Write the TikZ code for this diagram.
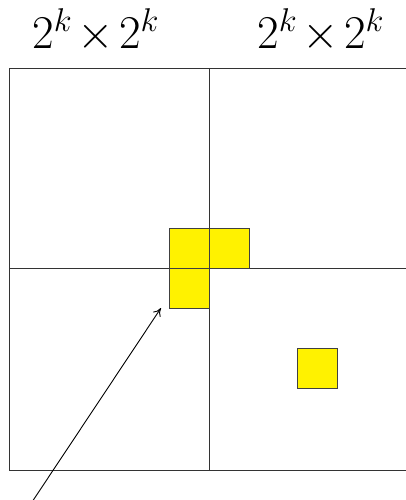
\documentclass[tikz,border=0pt]{standalone}
\usepackage{fix-cm}
\usetikzlibrary{arrows.meta,positioning}

\begin{document}
\begin{tikzpicture}[
    x=1pt, y=-1pt,
    grid/.style={draw=black!80, line width=0.8pt},
    cell/.style={rectangle, draw=black!75, fill=yellow, line width=0.8pt, minimum size=40pt, inner sep=0pt},
    size/.style={anchor=base west, inner sep=0pt, font=\fontsize{47}{50}\selectfont},
    arrow/.style={-{To[length=8pt,width=9pt]}, line width=0.9pt}
]
\useasboundingbox (0,0) rectangle (405,500);

% the two blocks and their split
\draw[grid] (9,68) rectangle (409,470);
\draw[grid] (209,68) -- (209,470);
\draw[grid] (9,268) -- (409,268);

\node[size] (left) at (32,49) {$2^k\mkern-2mu\times\mkern-2mu2^k$};
\node[size] (right) at (257,49) {$2^k\mkern-2mu\times\mkern-2mu2^k$};

% marked cells
\node[cell] (a) at (189,248) {};
\node[cell, right=0pt of a] (b) {};
\node[cell, below=0pt of a] (c) {};
\node[cell] (d) at (317,368) {};

\coordinate (tail) at (30,505);
\coordinate (tip) at (161,308);
\draw[arrow] (tail) -- (tip);
\end{tikzpicture}
\end{document}
